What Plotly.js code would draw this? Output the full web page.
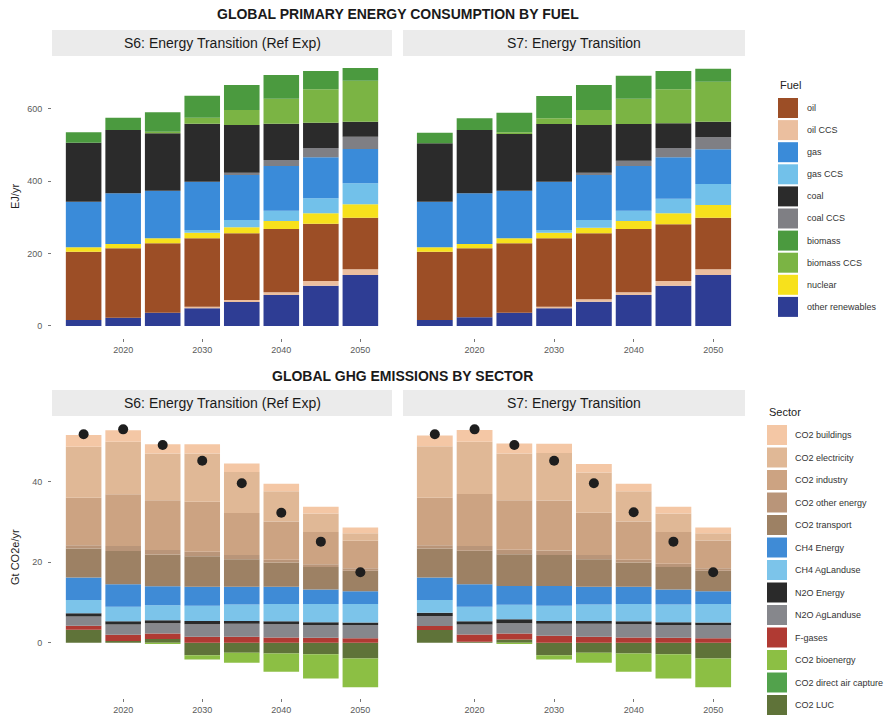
<!DOCTYPE html>
<html>
<head>
<meta charset="utf-8">
<script src="https://cdn.plot.ly/plotly-3.0.1.min.js"></script>
<style>
  html, body { margin: 0; padding: 0; background: #ffffff; }
  #chart { width: 893px; height: 722px; }
</style>
</head>
<body>
<div id="chart"></div>
<script>
// ---------- data ----------
const years = [2015, 2020, 2025, 2030, 2035, 2040, 2045, 2050];
const yearTicks = [2020, 2030, 2040, 2050];

// Primary energy (EJ/yr), S6: Energy Transition (Ref Exp)
const renew6    = [16.6, 23.0, 36.9, 48.8, 66.4, 85.7, 111.5, 141.0];
const oilCcs6   = [0, 0, 0, 4.7, 5.5, 7.4, 12.9, 15.7];
const oil6      = [188.9, 191.7, 191.7, 188.9, 184.3, 175.1, 158.5, 142.8];
const nuclear6  = [12.0, 12.0, 13.8, 15.7, 16.6, 22.1, 28.6, 36.9];
const gasCcs6   = [0, 0, 0, 7.3, 20.3, 28.6, 41.5, 58.1];
const gas6      = [126.3, 140.1, 131.8, 133.7, 124.4, 123.5, 113.4, 94.9];
const coalCcs6  = [0, 0, 0, 0, 6.5, 16.6, 25.8, 34.1];
const coal6     = [163.1, 175.1, 158.5, 160.3, 131.8, 100.4, 70.0, 41.5];
const bioCcs6   = [0, 0, 4.6, 16.6, 41.4, 69.2, 92.2, 113.3];
const biomass6  = [28.6, 34.1, 53.5, 60.9, 69.2, 65.4, 50.7, 35.1];

// Primary energy (EJ/yr), S7: Energy Transition
const renew7    = [16.6, 24.0, 36.9, 48.8, 67.3, 85.7, 111.5, 141.0];
const oilCcs7   = [0, 0, 0, 4.7, 6.4, 7.4, 12.9, 15.7];
const oil7      = [188.9, 190.7, 191.7, 188.9, 182.5, 175.1, 156.7, 142.8];
const nuclear7  = [12.0, 12.0, 13.8, 15.7, 15.7, 22.1, 30.4, 35.1];
const gasCcs7   = [0, 0, 0, 7.3, 21.2, 28.6, 40.6, 58.0];
const gas7      = [126.3, 140.1, 131.8, 133.7, 124.4, 123.5, 114.3, 95.9];
const coalCcs7  = [0, 0, 0, 0, 6.5, 14.7, 25.8, 33.2];
const coal7     = [161.3, 175.1, 156.7, 159.4, 131.8, 101.4, 68.2, 43.3];
const bioCcs7   = [0, 0, 4.6, 15.7, 41.4, 70.1, 94.0, 110.6];
const biomass7  = [29.5, 32.3, 54.4, 61.7, 69.2, 63.6, 50.7, 35.9];

// GHG emissions (Gt CO2e/yr), S6
const buildings6   = [2.9, 2.9, 2.3, 2.3, 2.1, 1.9, 1.7, 1.4];
const electricity6 = [12.7, 13.0, 11.6, 12.0, 10.2, 7.5, 4.6, 1.9];
const industry6    = [11.8, 12.9, 12.4, 12.4, 10.4, 9.5, 8.0, 6.8];
const otherEnergy6 = [0.8, 1.2, 1.1, 1.1, 1.1, 0.7, 0.7, 0.6];
const transport6   = [7.2, 8.3, 7.9, 7.6, 6.8, 6.0, 5.6, 5.1];
const ch4Energy6   = [5.6, 5.6, 4.7, 4.7, 4.4, 4.3, 3.6, 3.2];
const ch4Ag6       = [3.3, 3.6, 3.7, 3.8, 4.1, 4.3, 4.5, 4.6];
const n2oEnergy6   = [0.8, 0.8, 0.8, 0.8, 0.7, 0.7, 0.7, 0.6];
const n2oAg6       = [2.3, 2.5, 2.5, 3.1, 3.2, 3.3, 3.2, 3.3];
const fGases6      = [1.0, 1.6, 1.4, 1.5, 1.5, 1.3, 1.2, 1.1];
const co2Bio6      = [0, 0, -0.3, -1.1, -2.5, -4.5, -6.0, -7.2];
const co2Dac6      = [0, 0, 0, 0, 0, 0, 0, 0];
const co2Luc6      = [3.2, 0.4, 0.9, -3.1, -2.5, -2.7, -2.9, -3.9];
const net6         = [51.8, 53.0, 49.1, 45.2, 39.6, 32.3, 25.1, 17.5];

// GHG emissions (Gt CO2e/yr), S7
const buildings7   = [2.7, 2.9, 2.5, 2.3, 2.1, 1.9, 1.7, 1.4];
const electricity7 = [12.8, 13.0, 11.6, 11.8, 10.0, 7.5, 4.6, 1.8];
const industry7    = [11.8, 12.9, 12.3, 12.4, 10.5, 9.5, 7.9, 6.9];
const otherEnergy7 = [0.8, 1.2, 1.1, 1.1, 1.1, 0.7, 0.8, 0.6];
const transport7   = [7.2, 8.3, 7.9, 7.7, 6.8, 6.0, 5.6, 5.1];
const ch4Energy7   = [5.6, 5.6, 4.7, 4.9, 4.4, 4.3, 3.7, 3.2];
const ch4Ag7       = [3.15, 3.6, 3.6, 3.8, 4.1, 4.3, 4.4, 4.6];
const n2oEnergy7   = [0.8, 0.8, 1.0, 0.7, 0.7, 0.7, 0.7, 0.6];
const n2oAg7       = [2.5, 2.5, 2.5, 3.0, 3.2, 3.3, 3.2, 3.3];
const fGases7      = [1.0, 1.8, 1.5, 1.7, 1.5, 1.3, 1.2, 1.1];
const co2Bio7      = [0, 0, -0.3, -1.1, -2.5, -4.5, -6.0, -7.2];
const co2Dac7      = [0, 0, 0, 0, 0, 0, 0, 0];
const co2Luc7      = [3.15, 0.25, 0.8, -3.1, -2.5, -2.7, -2.9, -3.9];
const net7         = [51.8, 53.0, 49.1, 45.2, 39.6, 32.4, 25.1, 17.5];

// legend order and colours
const fuelNames  = ['oil', 'oil CCS', 'gas', 'gas CCS', 'coal', 'coal CCS', 'biomass', 'biomass CCS', 'nuclear', 'other renewables'];
const fuelColors = ['#9c4e26', '#ebbf9f', '#3a8bd9', '#72c1ea', '#2b2b2b', '#7f7f84', '#4b9a3f', '#7bb444', '#f7e11c', '#2e3d94'];

const sectorNames  = ['CO2 buildings', 'CO2 electricity', 'CO2 industry', 'CO2 other energy', 'CO2 transport',
                      'CH4 Energy', 'CH4 AgLanduse', 'N2O Energy', 'N2O AgLanduse', 'F-gases',
                      'CO2 bioenergy', 'CO2 direct air capture', 'CO2 LUC'];
const sectorColors = ['#f4c7a5', '#e0b896', '#cca382', '#b99579', '#9d8164',
                      '#3f8bd6', '#7cc4ea', '#2a2a2a', '#86878c', '#b03a33',
                      '#8cbf44', '#52a24c', '#5f7339'];

// ---------- geometry helpers (figure pixels -> paper) ----------
const W = 893, H = 722;
const px = x => x / W;
const py = y => 1 - y / H;

const FONT = 'Liberation Sans, Arial, Helvetica, sans-serif';
const BAR_W = 4.5;

const fuelColor = name => fuelColors[fuelNames.indexOf(name)];
const sectorColor = name => sectorColors[sectorNames.indexOf(name)];

function bar(values, color, xa, ya) {
  return {
    type: 'bar', x: years, y: values, width: BAR_W,
    marker: { color: color, line: { width: 0 } },
    xaxis: xa, yaxis: ya, showlegend: false, hoverinfo: 'x+y'
  };
}

// bottom -> top stacking for the energy panels
function fuelTraces(s, xa, ya) {
  return [
    bar(s.renew, fuelColor('other renewables'), xa, ya),
    bar(s.oilCcs, fuelColor('oil CCS'), xa, ya),
    bar(s.oil, fuelColor('oil'), xa, ya),
    bar(s.nuclear, fuelColor('nuclear'), xa, ya),
    bar(s.gasCcs, fuelColor('gas CCS'), xa, ya),
    bar(s.gas, fuelColor('gas'), xa, ya),
    bar(s.coalCcs, fuelColor('coal CCS'), xa, ya),
    bar(s.coal, fuelColor('coal'), xa, ya),
    bar(s.bioCcs, fuelColor('biomass CCS'), xa, ya),
    bar(s.biomass, fuelColor('biomass'), xa, ya)
  ];
}

// relative stacking: positives grow up from zero, negatives down from zero
function sectorTraces(s, xa, ya) {
  return [
    bar(s.luc, sectorColor('CO2 LUC'), xa, ya),
    bar(s.dac, sectorColor('CO2 direct air capture'), xa, ya),
    bar(s.bio, sectorColor('CO2 bioenergy'), xa, ya),
    bar(s.fg, sectorColor('F-gases'), xa, ya),
    bar(s.n2oAg, sectorColor('N2O AgLanduse'), xa, ya),
    bar(s.n2oE, sectorColor('N2O Energy'), xa, ya),
    bar(s.ch4Ag, sectorColor('CH4 AgLanduse'), xa, ya),
    bar(s.ch4E, sectorColor('CH4 Energy'), xa, ya),
    bar(s.transport, sectorColor('CO2 transport'), xa, ya),
    bar(s.other, sectorColor('CO2 other energy'), xa, ya),
    bar(s.industry, sectorColor('CO2 industry'), xa, ya),
    bar(s.electricity, sectorColor('CO2 electricity'), xa, ya),
    bar(s.buildings, sectorColor('CO2 buildings'), xa, ya),
    {
      type: 'scatter', mode: 'markers', x: years, y: s.net,
      marker: { color: '#1e1e1e', size: 10 },
      xaxis: xa, yaxis: ya, showlegend: false, hoverinfo: 'x+y'
    }
  ];
}

const data = [].concat(
  fuelTraces({ renew: renew6, oilCcs: oilCcs6, oil: oil6, nuclear: nuclear6, gasCcs: gasCcs6, gas: gas6,
               coalCcs: coalCcs6, coal: coal6, bioCcs: bioCcs6, biomass: biomass6 }, 'x', 'y'),
  fuelTraces({ renew: renew7, oilCcs: oilCcs7, oil: oil7, nuclear: nuclear7, gasCcs: gasCcs7, gas: gas7,
               coalCcs: coalCcs7, coal: coal7, bioCcs: bioCcs7, biomass: biomass7 }, 'x2', 'y2'),
  sectorTraces({ luc: co2Luc6, dac: co2Dac6, bio: co2Bio6, fg: fGases6, n2oAg: n2oAg6, n2oE: n2oEnergy6,
                 ch4Ag: ch4Ag6, ch4E: ch4Energy6, transport: transport6, other: otherEnergy6,
                 industry: industry6, electricity: electricity6, buildings: buildings6, net: net6 }, 'x3', 'y3'),
  sectorTraces({ luc: co2Luc7, dac: co2Dac7, bio: co2Bio7, fg: fGases7, n2oAg: n2oAg7, n2oE: n2oEnergy7,
                 ch4Ag: ch4Ag7, ch4E: ch4Energy7, transport: transport7, other: otherEnergy7,
                 industry: industry7, electricity: electricity7, buildings: buildings7, net: net7 }, 'x4', 'y4')
);

// ---------- axes ----------
const leftDom  = [px(52), px(392)];
const rightDom = [px(403), px(745)];
const topDom   = [py(338), py(56)];
const botDom   = [py(698), py(416)];

const tickFont = { family: FONT, size: 9, color: '#5a5a5a' };

function xAxis(domain, anchor) {
  return {
    domain: domain, anchor: anchor, range: [2011, 2054],
    tickvals: yearTicks, ticks: 'outside', ticklen: 3, tickwidth: 1, tickcolor: '#777',
    tickfont: tickFont, showgrid: false, zeroline: false, showline: false, fixedrange: true
  };
}
function yAxis(domain, anchor, range, ticks, showLabels) {
  return {
    domain: domain, anchor: anchor, range: range,
    tickvals: ticks, ticks: showLabels ? 'outside' : '', ticklen: 3, tickwidth: 1, tickcolor: '#777',
    showticklabels: showLabels, ticklabelstandoff: 4,
    tickfont: tickFont, showgrid: false, zeroline: false, showline: false, fixedrange: true
  };
}

const energyRange = [-33.2, 746.5];
const ghgRange = [-13.74, 56.32];

// ---------- facet strips, titles, legends ----------
const shapes = [];
const annotations = [];

function strip(x0, x1, y0, y1, label) {
  shapes.push({ type: 'rect', xref: 'paper', yref: 'paper', x0: px(x0), x1: px(x1), y0: py(y1), y1: py(y0),
                fillcolor: '#ebebeb', line: { width: 0 }, layer: 'below' });
  annotations.push({ xref: 'paper', yref: 'paper', x: px((x0 + x1) / 2), y: py((y0 + y1) / 2),
                     text: label, showarrow: false, xanchor: 'center', yanchor: 'middle',
                     font: { family: FONT, size: 14, color: '#1a1a1a' } });
}
strip(52, 392, 30, 56, 'S6: Energy Transition (Ref Exp)');
strip(403, 745, 30, 56, 'S7: Energy Transition');
strip(52, 392, 390, 416, 'S6: Energy Transition (Ref Exp)');
strip(403, 745, 390, 416, 'S7: Energy Transition');

function text(x, y, s, opts) {
  annotations.push(Object.assign({ xref: 'paper', yref: 'paper', x: px(x), y: py(y), text: s,
                                   showarrow: false, xanchor: 'center', yanchor: 'middle' }, opts));
}
text(398, 14, '<b>GLOBAL PRIMARY ENERGY CONSUMPTION BY FUEL</b>', { font: { family: FONT, size: 14, color: '#1a1a1a' } });
text(402, 376, '<b>GLOBAL GHG EMISSIONS BY SECTOR</b>', { font: { family: FONT, size: 14, color: '#1a1a1a' } });
text(15, 197, 'EJ/yr', { textangle: -90, font: { family: FONT, size: 11, color: '#222' } });
text(15, 557, 'Gt CO2e/yr', { textangle: -90, font: { family: FONT, size: 11, color: '#222' } });

function legend(title, names, colors, x, titleY, firstY, step, labelX) {
  text(x, titleY, title, { xanchor: 'left', font: { family: FONT, size: 11, color: '#222' } });
  names.forEach((n, i) => {
    const cy = firstY + i * step;
    shapes.push({ type: 'rect', xref: 'paper', yref: 'paper',
                  x0: px(x), x1: px(x + 20), y0: py(cy + 10), y1: py(cy - 10),
                  fillcolor: colors[i], line: { width: 0 } });
    text(labelX, cy, n, { xanchor: 'left', font: { family: FONT, size: 9, color: '#333' } });
  });
}
legend('Fuel', fuelNames, fuelColors, 778, 85, 108, 22.1, 805);
legend('Sector', sectorNames, sectorColors, 767, 412, 435, 22.5, 793);

const layout = {
  width: W, height: H,
  margin: { l: 0, r: 0, t: 0, b: 0 },
  paper_bgcolor: '#ffffff', plot_bgcolor: '#ffffff',
  barmode: 'relative',
  showlegend: false,
  font: { family: FONT },
  xaxis:  xAxis(leftDom, 'y'),
  xaxis2: xAxis(rightDom, 'y2'),
  xaxis3: xAxis(leftDom, 'y3'),
  xaxis4: xAxis(rightDom, 'y4'),
  yaxis:  yAxis(topDom, 'x', energyRange, [0, 200, 400, 600], true),
  yaxis2: yAxis(topDom, 'x2', energyRange, [0, 200, 400, 600], false),
  yaxis3: yAxis(botDom, 'x3', ghgRange, [0, 20, 40], true),
  yaxis4: yAxis(botDom, 'x4', ghgRange, [0, 20, 40], false),
  shapes: shapes,
  annotations: annotations
};

Plotly.newPlot('chart', data, layout, { displayModeBar: false, staticPlot: true });
</script>
</body>
</html>
